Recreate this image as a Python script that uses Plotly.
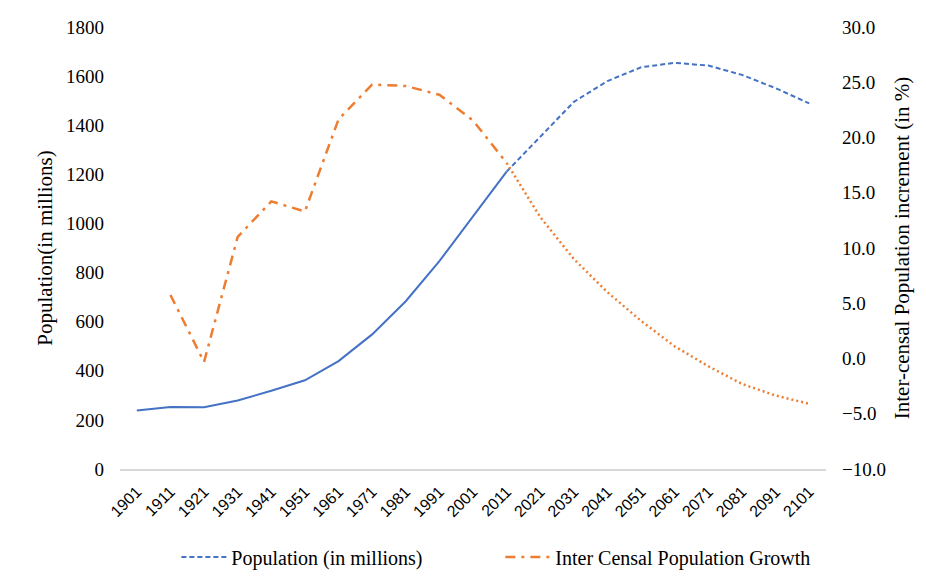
import plotly.graph_objects as go

years = ["1901", "1911", "1921", "1931", "1941", "1951", "1961", "1971", "1981", "1991", "2001",
         "2011", "2021", "2031", "2041", "2051", "2061", "2071", "2081", "2091", "2101"]
population = [238.4, 252.1, 251.3, 279.0, 318.7, 361.1, 439.2, 548.2, 683.3, 846.4, 1028.7,
              1210.9, 1355, 1495, 1580, 1636, 1654, 1643, 1605, 1551, 1489]
growth = [None, 5.75, -0.31, 11.0, 14.22, 13.31, 21.64, 24.80, 24.66, 23.87, 21.54,
          17.7, 12.8, 9.0, 6.0, 3.4, 1.1, -0.7, -2.3, -3.35, -4.1]
split_year = "2011"

k = years.index(split_year)
BLUE = "#4472C4"
ORANGE = "#ED7D31"
SERIF = "Liberation Serif"

fig = go.Figure()
fig.add_trace(go.Scatter(x=years[:k + 1], y=population[:k + 1], mode="lines",
                         line=dict(color=BLUE, width=2, dash="solid"),
                         showlegend=False, yaxis="y"))
fig.add_trace(go.Scatter(x=years[k:], y=population[k:], mode="lines",
                         line=dict(color=BLUE, width=2, dash="5px,3px"),
                         name="Population (in millions)", yaxis="y"))
fig.add_trace(go.Scatter(x=years[:k + 1], y=growth[:k + 1], mode="lines",
                         line=dict(color=ORANGE, width=2.5, dash="10px,6px,3px,6px"),
                         name="Inter Censal Population Growth", yaxis="y2"))
fig.add_trace(go.Scatter(x=years[k:], y=growth[k:], mode="lines",
                         line=dict(color=ORANGE, width=2.5, dash="2px,3px"),
                         showlegend=False, yaxis="y2"))

fig.update_layout(
    width=910, height=565,
    paper_bgcolor="white", plot_bgcolor="white",
    margin=dict(l=112, r=92, t=19, b=104, autoexpand=False),
    font=dict(family=SERIF, size=19, color="#000000"),
    xaxis=dict(type="category", categoryorder="array", categoryarray=years,
               range=[-0.5, len(years) - 0.5], automargin=False,
               showline=True, linecolor="#D9D9D9", linewidth=2,
               showgrid=False, ticks="", tickangle=-45, ticklabelstandoff=5,
               tickfont=dict(family="Liberation Sans", size=16, color="#000000")),
    yaxis=dict(range=[0, 1800], dtick=200, showgrid=False, zeroline=False,
               showline=False, ticks="", automargin=False, ticklabelstandoff=15,
               title=dict(text="Population(in millions)", font=dict(family=SERIF, size=21), standoff=7),
               tickfont=dict(family=SERIF, size=19)),
    yaxis2=dict(range=[-10, 30], dtick=5, tickformat=".1f", overlaying="y", side="right",
                showgrid=False, zeroline=False, showline=False, ticks="", automargin=False,
                ticklabelstandoff=15,
                title=dict(text="Inter-censal Population increment (in %)", font=dict(family=SERIF, size=21), standoff=9),
                tickfont=dict(family=SERIF, size=19)),
    legend=dict(orientation="h", xref="container", yref="container",
                x=0.185, xanchor="left", y=0.0283, yanchor="middle",
                font=dict(family=SERIF, size=20), traceorder="normal", itemwidth=45,
                entrywidth=264, bgcolor="rgba(0,0,0,0)"),
)

fig.write_html("out.html")
